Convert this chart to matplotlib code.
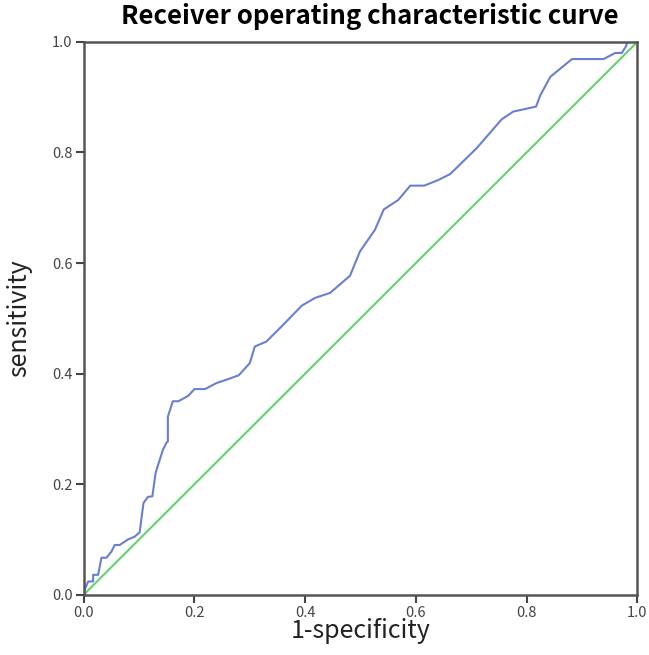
import numpy as np
import matplotlib.pyplot as plt

plt.rcParams['font.family'] = ['Noto Sans CJK JP', 'DejaVu Sans']

# ROC curve
fpr = [0.0, 0.0, 0.008, 0.017, 0.017, 0.026, 0.032, 0.041, 0.05, 0.056, 0.065,
       0.08, 0.092, 0.101, 0.108, 0.116, 0.124, 0.13, 0.143, 0.15, 0.152, 0.152,
       0.161, 0.171, 0.189, 0.20, 0.219, 0.24, 0.258, 0.28, 0.30, 0.309, 0.33,
       0.36, 0.394, 0.418, 0.445, 0.481, 0.499, 0.526, 0.542, 0.568, 0.59,
       0.615, 0.64, 0.662, 0.71, 0.755, 0.776, 0.817, 0.825, 0.843, 0.882,
       0.939, 0.96, 0.972, 0.98, 0.982, 1.0]
tpr = [0.0, 0.005, 0.024, 0.024, 0.036, 0.036, 0.067, 0.067, 0.078, 0.09, 0.09,
       0.10, 0.105, 0.113, 0.166, 0.177, 0.178, 0.221, 0.262, 0.276, 0.277,
       0.322, 0.35, 0.35, 0.36, 0.372, 0.372, 0.383, 0.389, 0.397, 0.419, 0.449,
       0.458, 0.488, 0.523, 0.537, 0.546, 0.577, 0.621, 0.66, 0.697, 0.714,
       0.74, 0.74, 0.75, 0.761, 0.808, 0.86, 0.874, 0.883, 0.904, 0.937, 0.969,
       0.969, 0.98, 0.98, 0.993, 1.0, 1.0]
ref = [0.0, 1.0]

fig = plt.figure(figsize=(6.49, 6.55), dpi=100)
ax = fig.add_axes([0.129, 0.092, 0.853, 0.844])

ax.plot(fpr, tpr, color='#6a7fd0', lw=1.5)
ax.plot(ref, ref, color='#63d26e', lw=1.5)

ax.set_xlim(0, 1)
ax.set_ylim(0, 1)
ax.set_xticks(np.arange(0, 1.01, 0.2))
ax.set_yticks(np.arange(0, 1.01, 0.2))
ax.set_xticklabels(['0.0', '0.2', '0.4', '0.6', '0.8', '1.0'])
ax.set_yticklabels(['0.0', '0.2', '0.4', '0.6', '0.8', '1.0'])
ax.tick_params(direction='out', length=6, width=1.5, color='#444444',
               labelsize=10.5, labelcolor='#444444', pad=2)
for s in ax.spines.values():
    s.set_color('#555555')
    s.set_linewidth(1.8)

ax.set_xlabel('1-specificity', fontsize=18, labelpad=-1, color='#222222')
ax.set_ylabel('sensitivity', fontsize=18, labelpad=14, color='#222222')
fig.text(0.57, 0.975, 'Receiver operating characteristic curve', ha='center',
         va='center', fontsize=18.5, fontweight='bold')

fig.savefig('out.png', dpi=100)
